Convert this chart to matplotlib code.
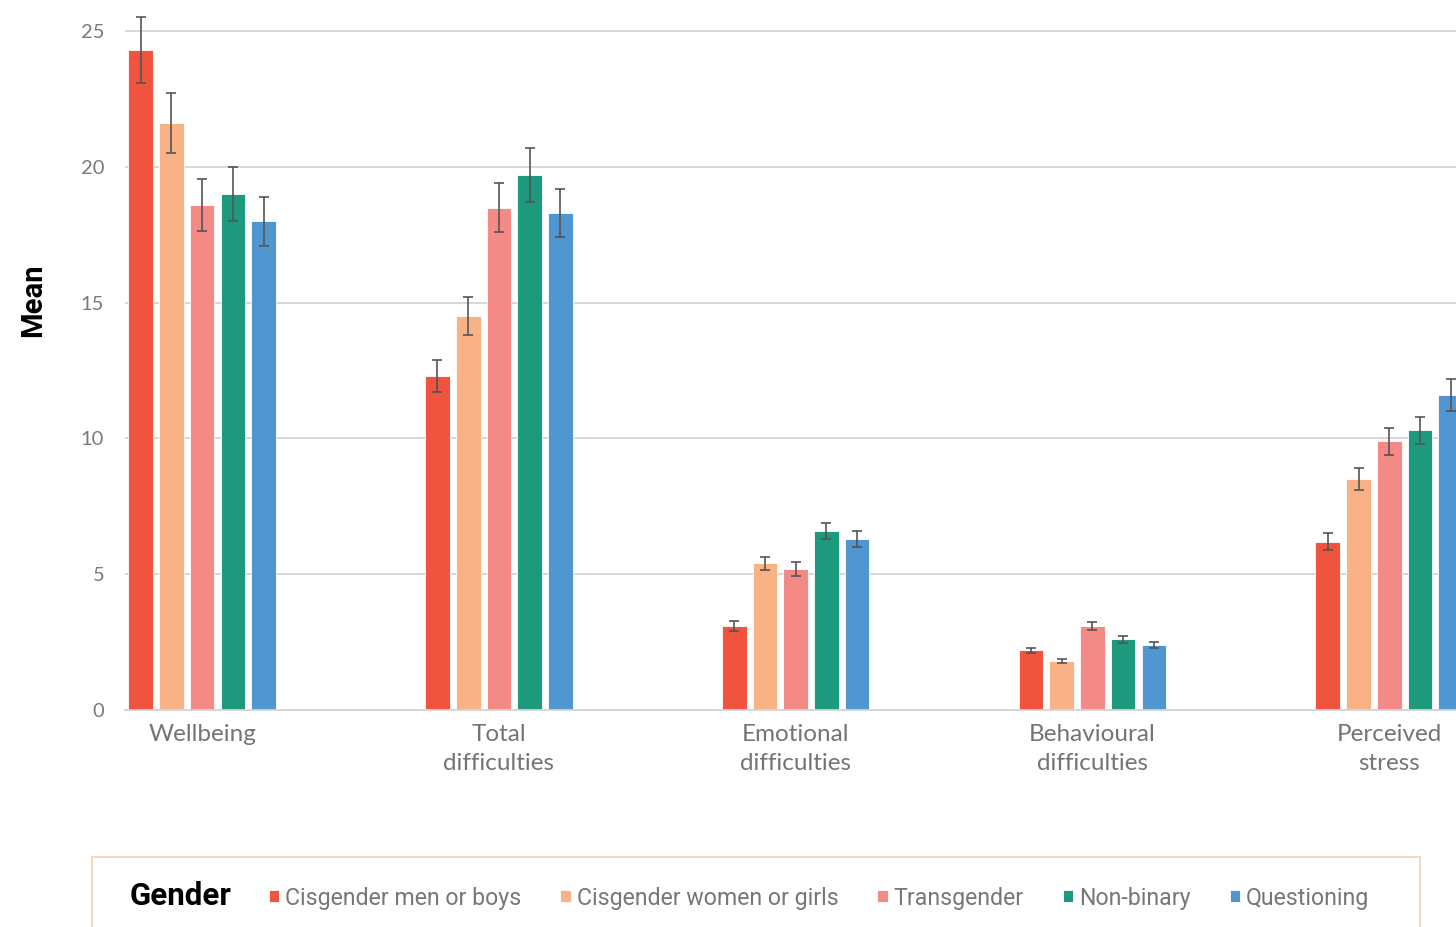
import numpy as np
import matplotlib
matplotlib.use("Agg")
import matplotlib.pyplot as plt
from matplotlib.patches import Rectangle

categories = ["Wellbeing", "Total\ndifficulties", "Emotional\ndifficulties",
              "Behavioural\ndifficulties", "Perceived\nstress"]
groups = ["Cisgender men or boys", "Cisgender women or girls", "Transgender",
          "Non-binary", "Questioning"]
colors = ["#F0543F", "#F8B286", "#F48A85", "#1D9A7D", "#5097D1"]

means = {
    "Cisgender men or boys":    [24.3, 12.3, 3.1, 2.2, 6.2],
    "Cisgender women or girls": [21.6, 14.5, 5.4, 1.8, 8.5],
    "Transgender":              [18.6, 18.5, 5.2, 3.1, 9.9],
    "Non-binary":               [19.0, 19.7, 6.6, 2.6, 10.3],
    "Questioning":              [18.0, 18.3, 6.3, 2.4, 11.6],
}
errs = {
    "Cisgender men or boys":    [1.2, 0.6, 0.18, 0.1, 0.3],
    "Cisgender women or girls": [1.1, 0.7, 0.25, 0.07, 0.4],
    "Transgender":              [0.95, 0.9, 0.25, 0.15, 0.5],
    "Non-binary":               [1.0, 1.0, 0.3, 0.13, 0.5],
    "Questioning":              [0.9, 0.9, 0.3, 0.12, 0.6],
}

W, H = 1456, 927
fig = plt.figure(figsize=(W / 100, H / 100), dpi=100)
ax = fig.add_axes([125 / W, (H - 710) / H, 1 - 125 / W, 710 / H])

x = np.arange(len(categories))
step = 0.1035
bw = 0.083
for i, g in enumerate(groups):
    xs = x + (i - 2) * step
    ax.bar(xs, means[g], width=bw, color=colors[i], edgecolor="white",
           linewidth=0.6, zorder=2, label=g)
    ax.errorbar(xs, means[g], yerr=errs[g], fmt="none", ecolor="#555555",
                elinewidth=1.2, capsize=3.5, capthick=1.2, zorder=3, clip_on=False)

ax.set_xlim(-0.26, 4.225)
ax.set_ylim(0, 710 / 27.16)
ax.set_yticks([0, 5, 10, 15, 20, 25])
ax.yaxis.grid(True, color="#d4d4d4", linewidth=1.3, zorder=0)
ax.set_axisbelow(True)
for s in ["top", "right", "left"]:
    ax.spines[s].set_visible(False)
ax.spines["bottom"].set_color("#d4d4d4")
ax.spines["bottom"].set_linewidth(1.3)
ax.tick_params(axis="both", length=0)
ax.tick_params(axis="y", pad=15, labelsize=14.5, labelcolor="#7a7a7a")
ax.set_xticks(x)
ax.set_xticklabels(categories, fontsize=17.5, color="#747474", linespacing=1.45)
ax.tick_params(axis="x", pad=10)
for lab in ax.get_yticklabels() + ax.get_xticklabels():
    lab.set_family("Lato")

fig.text(33 / W, 1 - 300 / H, "Mean", rotation=90, ha="center", va="center",
         fontsize=21, fontweight="bold", family="Roboto")

# legend box
fig.patches.append(Rectangle((92 / W, -0.05), (1420 - 92) / W, (H - 857) / H + 0.05,
                             transform=fig.transFigure, fill=False,
                             edgecolor="#F8D3B8", linewidth=1.3))
fig.text(130 / W, 1 - 896 / H, "Gender", ha="left", va="center",
         fontsize=22.5, fontweight="bold", family="Roboto")
handles, labels = ax.get_legend_handles_labels()
leg = fig.legend(handles, labels, loc="center left", bbox_to_anchor=(269 / W, 1 - 898 / H),
                 ncol=5, frameon=False, prop={"family": "Roboto", "size": 16.7},
                 handlelength=0.45, handleheight=0.45, handletextpad=0.25,
                 columnspacing=1.68, borderpad=0, borderaxespad=0)
for t in leg.get_texts():
    t.set_color("#777777")

fig.savefig("out.png", dpi=100)
